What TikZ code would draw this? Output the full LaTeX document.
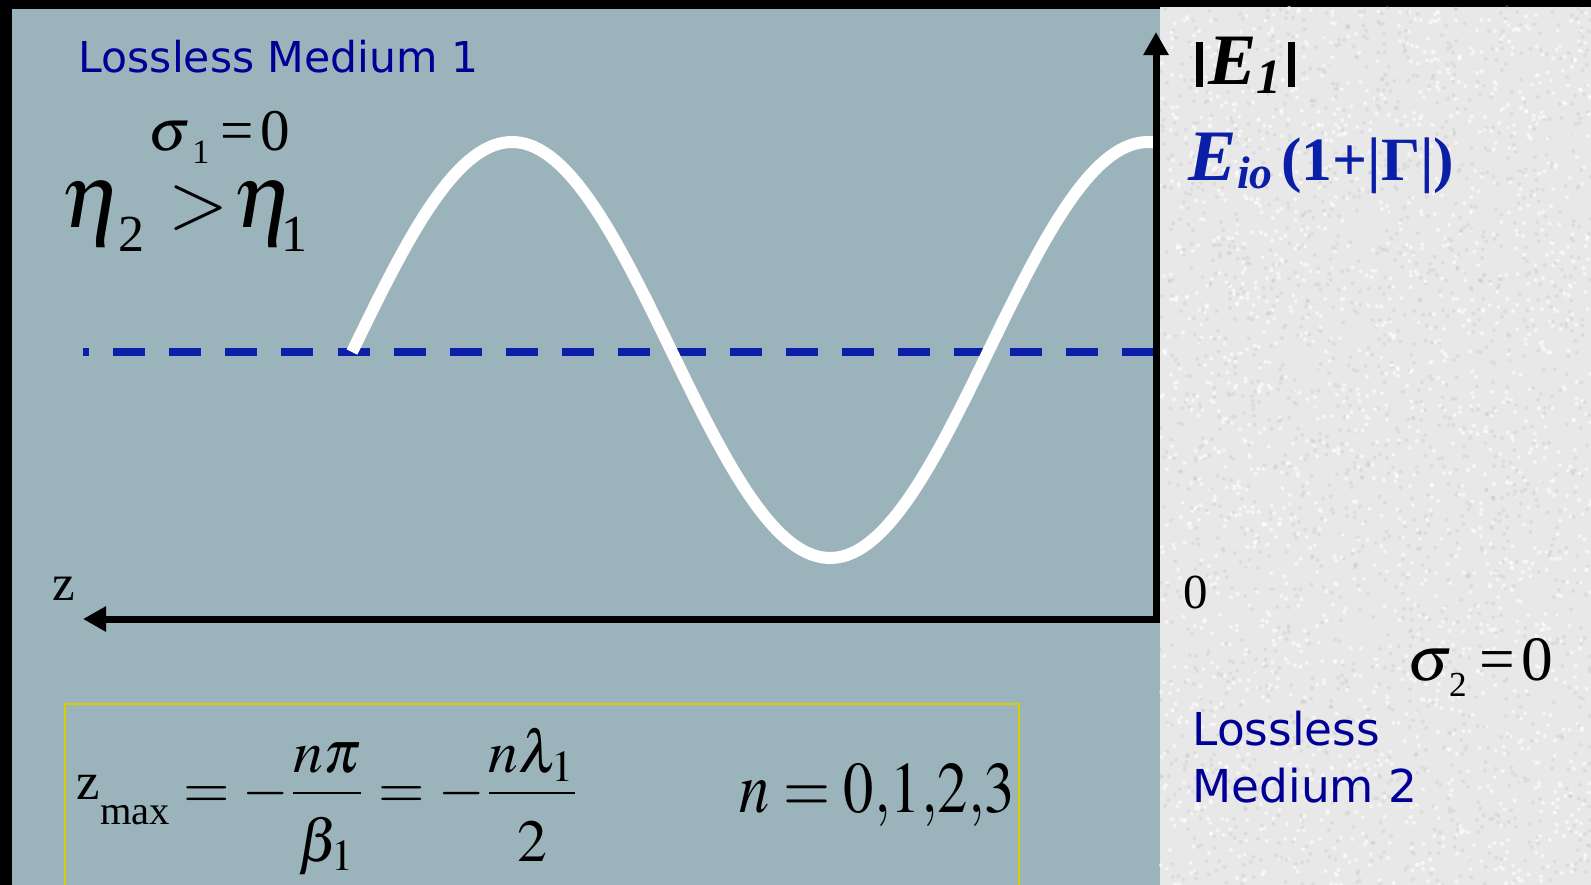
\documentclass[tikz,border=0pt]{standalone}
\usepackage{mathptmx}
\usepackage[no-math]{fontspec}
\setmainfont{Liberation Serif}
\setsansfont{DejaVu Sans}
\usepackage{graphicx}
\usepackage{xcolor}
\usetikzlibrary{arrows.meta, positioning}

\definecolor{nenxam}{RGB}{155,179,186}
\definecolor{nensang}{RGB}{232,232,232}
\definecolor{chuxanh}{RGB}{0,0,150}
\definecolor{xanhdam}{RGB}{10,30,168}
\definecolor{vienvang}{RGB}{215,205,0}
% chỉ số dưới: độ hạ, cỡ chữ, nội dung
\newcommand{\chiso}[3]{\raisebox{-#1}{\fontsize{#2}{#2}\selectfont #3}}

\begin{document}
\begin{tikzpicture}[x=0.01cm, y=-0.01cm, >={Triangle[length=0.23cm, width=0.24cm]},
    truc/.style={line width=0.07cm},
    song/.style={white, line width=0.12cm},
    netdut/.style={xanhdam, line width=0.07cm, dash pattern=on 0.32cm off 0.24cm},
    moitruong/.style={font=\sffamily\fontsize{12.1}{14.5}\selectfont, text=chuxanh, inner sep=0},
    nhan/.style={inner sep=0, anchor=base west}]
    % Khung hình và hai môi trường
    \useasboundingbox (0,0) rectangle (1591,885);
    \fill[black] (0,0) rectangle (1591,885);
    \fill[nenxam] (12,9) rectangle (1160,885);
    \fill[nensang] (1160,7) rectangle (1591,885);
    % Vân nhám của môi trường 2
    \pgfmathsetseed{17}
    \foreach \i in {1,...,1800} {
        \fill[gray!55, opacity=0.25] ({1160+431*rnd},{7+878*rnd}) circle (2);
        \fill[white, opacity=0.6] ({1160+431*rnd},{7+878*rnd}) circle (2);
    }

    % Các điểm mốc của hệ trục
    \coordinate (O) at (1156,619);
    \coordinate (zmui) at (83,619);
    \coordinate (emui) at (1156,32);
    \coordinate (dphai) at (1154,352);
    \coordinate (dtrai) at (83,352);

    % Đường trung bình (nét đứt) và sóng đứng |E_1|
    \draw[netdut] (dphai) -- (dtrai);
    \draw[song] plot[domain=352:1156, samples=160]
        (\x, {350 - 208*cos((\x-1148)/636*360)});

    % Trục z và trục |E_1|
    \draw[truc, <->] (zmui) -- (O) -- (emui);

    % Nhãn môi trường 1
    \node[moitruong, nhan] (mt1) at (78,73) {Lossless Medium 1};
    \node[nhan, font=\fontsize{16.8}{18}\selectfont] (sigma1) at (148,150)
        {$\sigma$\hspace{0.5pt}\chiso{3.7pt}{9.7}{1}\hspace{3pt}=\hspace{2pt}0};
    \node[nhan, font=\fontsize{26}{28}\selectfont] (eta) at (60,228)
        {$\eta$\hspace{-1.5pt}\chiso{6.8pt}{14.8}{2}\hspace{7pt}{\fontsize{22}{24}\selectfont$>$}\hspace{1pt}$\eta$\hspace{-4pt}\chiso{6.8pt}{14.8}{1}};
    \node[nhan, font=\fontsize{14.5}{16}\selectfont] (zlbl) at (52,600) {z};

    % Nhãn trên trục đứng
    \node[nhan, font=\fontsize{20.6}{22}\selectfont\bfseries] (Emod) at (1195,85)
        {\rule[-0.6pt]{2pt}{12.8pt}\hspace{1.5pt}\textit{E}\chiso{2.5pt}{14}{\textit{1}}\hspace{2pt}\rule[-0.6pt]{2pt}{12.8pt}};
    \node[nhan, font=\fontsize{20.6}{22}\selectfont\bfseries, text=xanhdam] (Emax) at (1188,180)
        {\textit{E}\chiso{2.3pt}{13}{\textit{io}}\hspace{2.5pt}{\fontsize{17.5}{19}\selectfont(1+|Γ|)}};
    \node[nhan, font=\fontsize{13.9}{15}\selectfont] (goc) at (1183,608) {0};

    % Nhãn môi trường 2
    \node[nhan, font=\fontsize{18}{20}\selectfont] (sigma2) at (1407,680)
        {$\sigma$\hspace{-1pt}\chiso{4.8pt}{10}{2}\hspace{3.5pt}=\hspace{2pt}0};
    \node[moitruong, nhan, font=\sffamily\fontsize{12.9}{16.2}\selectfont] (mt2a) at (1192,745) {Lossless};
    \node[moitruong, nhan, font=\sffamily\fontsize{12.9}{16.2}\selectfont] (mt2b) at (1192,802) {Medium 2};

    % Khung công thức z_max
    \draw[vienvang, line width=0.02cm] (65,704) rectangle (1019,895);
    \node[nhan, font=\fontsize{17}{19}\selectfont] (zmax) at (76,808)
        {$\displaystyle \raisebox{2.3pt}{\fontsize{15}{15}\selectfont z}\raisebox{-4.8pt}{\fontsize{11.5}{12}\selectfont max}
        = -\frac{\raisebox{-1.5pt}{$n\pi$}}{\raisebox{-3.5pt}{$\beta_1$}}
        = -\frac{\raisebox{-1.5pt}{$n\lambda_1$}}{\raisebox{-3.5pt}{$2$}}$};
    \node[nhan, font=\fontsize{17.2}{19}\selectfont] (nval) at (739,812)
        {\scalebox{1}[1.2]{$n = 0{,}1{,}2{,}3$}};
\end{tikzpicture}
\end{document}
